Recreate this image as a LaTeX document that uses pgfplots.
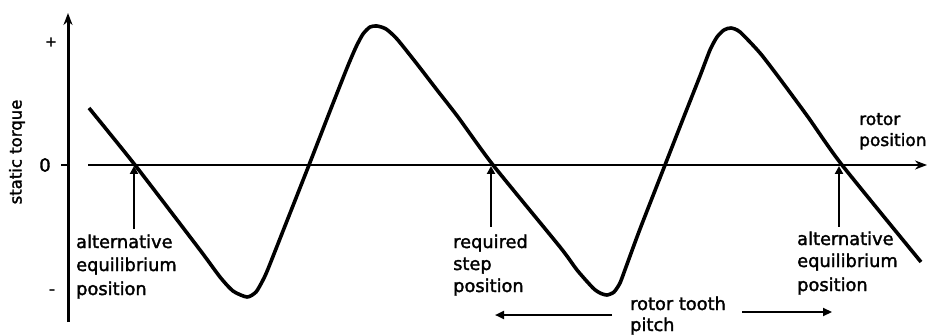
\documentclass[border=0pt]{standalone}
\usepackage{fontspec}
\setmainfont{DejaVu Sans}[FakeBold=1.8]
\newfontfamily\fb{DejaVu Sans}[FakeBold=1.8]
\usepackage{pgfplots}
\pgfplotsset{compat=1.18}
\usetikzlibrary{arrows.meta}
\newcommand\ft{\fb\fontsize{17.8}{22}\selectfont}
\tikzset{lbl/.style={anchor=base west,inner sep=0pt,font=\ft}}
\begin{document}
\begin{tikzpicture}
\begin{axis}[x=1pt,y=1pt,xmin=0,xmax=929,ymin=-170,ymax=165,
  axis lines=none,clip=false]
\path (axis cs:0,-170) rectangle (axis cs:929,165);
% axes
\draw[line width=3pt,-{Stealth[length=12pt,width=9pt]}] (axis cs:68,-157) -- (axis cs:68,152);
\draw[line width=2.8pt,-{Stealth[length=12pt,width=9pt]}] (axis cs:88,0) -- (axis cs:927,0);
\draw[line width=2pt] (axis cs:61,0) -- (axis cs:68,0);
% curve
\addplot[black,line width=3.6pt,smooth,tension=0.4] coordinates {
(89,57) (135,0) (200,-85) (220,-112) (233,-126) (247,-132) (256,-127) (263,-115)
(268,-104) (283,-66) (309,0) (330,54) (347,97) (356,118) (363,131) (370,138)
(377,139) (386,136) (397,126) (417,101) (437,75) (458,48) (493,0) (560,-82)
(577,-105) (593,-123) (600,-128) (607,-130) (614,-127) (620,-118) (626,-102)
(640,-64) (665,0) (683,46) (700,89) (710,115) (717,128) (724,135) (731,137)
(740,133) (760,112) (780,86) (808,48) (842,0) (921,-97)};
% y labels
\node[rotate=90,font=\fb\fontsize{16.5}{18}\selectfont] at (axis cs:17,13) {static torque};
\node[font=\fb\fontsize{18}{18}\selectfont,inner sep=0pt] at (axis cs:45,0) {0};
\node[font=\fb\fontsize{14}{15}\selectfont,inner sep=0pt] at (axis cs:51,123) {+};
\node[font=\fb\fontsize{17}{18}\selectfont,inner sep=0pt] at (axis cs:52,-127) {-};
% rotor position
\node[lbl,font=\fb\fontsize{17}{20}\selectfont] at (axis cs:859,40) {rotor};
\node[lbl,font=\fb\fontsize{17}{20}\selectfont] at (axis cs:859,19) {position};
% annotation arrows
\draw[line width=2.2pt,-{Triangle[length=8pt,width=8pt]}] (axis cs:134,-64) -- (axis cs:134,-1);
\draw[line width=2.2pt,-{Triangle[length=8pt,width=8pt]}] (axis cs:491,-62) -- (axis cs:491,-1);
\draw[line width=2.2pt,-{Triangle[length=8pt,width=8pt]}] (axis cs:839,-62) -- (axis cs:839,-1);
% annotation 1
\node[lbl] at (axis cs:76,-83) {alternative};
\node[lbl] at (axis cs:76,-106) {equilibrium};
\node[lbl] at (axis cs:76,-130) {position};
% annotation 2
\node[lbl] at (axis cs:453,-83) {required};
\node[lbl] at (axis cs:453,-105) {step};
\node[lbl] at (axis cs:453,-127) {position};
% annotation 3
\node[lbl] at (axis cs:797,-80) {alternative};
\node[lbl] at (axis cs:797,-102) {equilibrium};
\node[lbl] at (axis cs:797,-126) {position};
% rotor tooth pitch
\node[lbl] at (axis cs:630,-145) {rotor tooth};
\node[lbl] at (axis cs:630,-166) {pitch};
\draw[line width=2.2pt,-{Triangle[length=9pt,width=8pt]}] (axis cs:612,-150) -- (axis cs:495,-150);
\draw[line width=2.2pt,-{Triangle[length=9pt,width=8pt]}] (axis cs:742,-147) -- (axis cs:832,-147);
\end{axis}
\end{tikzpicture}
\end{document}
